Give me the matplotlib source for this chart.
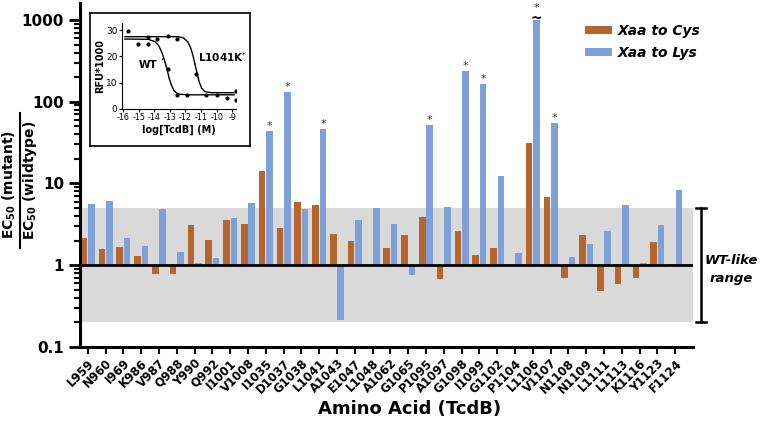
import numpy as np
import matplotlib
matplotlib.use('Agg')
import matplotlib.pyplot as plt

plt.rcParams['axes.unicode_minus'] = False

# datos: EC50(mutante)/EC50(wt) por residuo
residues = ['L959', 'N960', 'I969', 'K986', 'V987', 'Q988', 'Y990', 'Q992',
            'I1001', 'V1008', 'I1035', 'D1037', 'G1038', 'L1041', 'A1043',
            'E1047', 'L1048', 'A1062', 'G1065', 'P1095', 'A1097', 'G1098',
            'I1099', 'G1102', 'P1104', 'L1106', 'V1107', 'N1108', 'N1109',
            'L1111', 'L1113', 'K1116', 'Y1123', 'F1124']
nan = np.nan
cys = [2.14, 1.57, 1.66, 1.28, 0.78, 0.78, 3.14, 2.04, 3.58, 3.23, 14.2, 2.83,
       6.0, 5.52, 2.44, 1.98, nan, 1.64, 2.33, 3.94, 0.67, 2.66, 1.35, 1.64,
       nan, 31.0, 6.92, 0.69, 2.33, 0.49, 0.59, 0.69, 1.95, 1.05]
lys = [5.68, 6.06, 2.18, 1.72, 4.84, 1.45, 1.08, 1.22, 3.83, 5.7, 43.9, 131.0,
       4.84, 46.0, 0.215, 3.55, 5.02, 3.23, 0.755, 51.9, 5.22, 237.0, 165.0,
       12.2, 1.43, 1000.0, 54.4, 1.26, 1.84, 2.63, 5.46, 1.08, 3.11, 8.26]
starred = ['I1035', 'D1037', 'L1041', 'P1095', 'G1098', 'I1099', 'L1106', 'V1107']
broken = ['L1106']  # barra cortada (~)
wt_low, wt_high = 0.2, 5.0

wt_pts_x = [-15.72, -15.08, -14.43, -13.15, -12.57, -11.93, -10.65, -10.0, -9.36, -8.76]
wt_pts_y = [29.6, 24.8, 24.6, 15.2, 5.3, 5.3, 5.3, 5.3, 4.3, 3.4]
mut_pts_x = [-14.43, -13.8, -13.15, -12.57, -11.3, -8.76]
mut_pts_y = [27.5, 26.5, 27.8, 26.7, 13.3, 7.0]
wt_curve_x = [-15.89, -14.39, -13.96, -13.71, -13.49, -13.32, -13.17, -13.05,
              -12.89, -12.72, -12.47, -11.93, -8.87]
wt_curve_y = [26.6, 26.5, 25.6, 24.0, 21.1, 18.0, 14.8, 11.7, 8.9, 6.8, 5.7, 5.4, 5.4]
mut_curve_x = [-15.89, -12.47, -12.15, -11.86, -11.65, -11.5, -11.38, -11.25,
               -11.12, -10.96, -10.75, -10.32, -8.87]
mut_curve_y = [27.5, 27.5, 27.1, 25.6, 23.0, 19.9, 16.7, 13.6, 10.4, 7.9, 6.6, 6.2, 6.2]

c_cys = '#B6652F'
c_lys = '#7EA0D8'

W, H = 760, 421
fig = plt.figure(figsize=(7.6, 4.21), dpi=100)
ax = fig.add_axes([80/W, 1-347/H, 613/W, 344/H])

x = np.arange(len(residues))
ax.axhspan(wt_low, wt_high, color='#D9D9D9', zorder=0, lw=0)
ax.bar(x-0.21, np.array(cys)-1, bottom=1, width=0.37, color=c_cys,
       label='Xaa to Cys', zorder=2)
ax.bar(x+0.21, np.array(lys)-1, bottom=1, width=0.37, color=c_lys,
       label='Xaa to Lys', zorder=2)
ax.axhline(1, color='black', lw=2, zorder=3)
ax.set_yscale('log')
ax.set_ylim(0.1, 1614)
ax.set_xlim(-0.44, 34.0)

# asteriscos de significancia
for r in starred:
    i = residues.index(r)
    v = lys[i]
    if r in broken:
        ax.annotate('~', (i+0.21, v), xytext=(0, -4), textcoords='offset points',
                    ha='center', va='bottom', fontsize=10, fontweight='bold',
                    annotation_clip=False)
        ax.annotate('*', (i+0.21, v), xytext=(0, 5), textcoords='offset points',
                    ha='center', va='bottom', fontsize=8, color='#333333',
                    annotation_clip=False)
    else:
        ax.annotate('*', (i+0.21, v), xytext=(0, 0), textcoords='offset points',
                    ha='center', va='bottom', fontsize=8, color='#333333')

ax.spines['top'].set_visible(False)
ax.spines['right'].set_visible(False)
ax.spines['left'].set_linewidth(2.2)
ax.spines['bottom'].set_linewidth(2.2)
ax.set_xticks(x)
ax.set_xticklabels(residues, rotation=45, ha='right', rotation_mode='anchor',
                   fontsize=8.5, fontweight='bold')
ax.tick_params(axis='x', length=5, width=1.5, pad=2)
ax.set_yticks([0.1, 1, 10, 100, 1000])
ax.set_yticklabels(['0.1', '1', '10', '100', '1000'], fontsize=11, fontweight='bold')
ax.tick_params(axis='y', which='major', length=8, width=2)
ax.tick_params(axis='y', which='minor', length=4, width=1.5)

# corchete WT-like range
xb = 34.45
ax.plot([xb, xb], [wt_low, wt_high], color='black', lw=1.8, clip_on=False)
ax.plot([xb-0.28, xb+0.28], [wt_high, wt_high], color='black', lw=1.8, clip_on=False)
ax.plot([xb-0.28, xb+0.28], [wt_low, wt_low], color='black', lw=1.8, clip_on=False)
ax.text(36.15, 0.89, 'WT-like\nrange', ha='center', va='center', fontsize=9.5,
        fontweight='bold', style='italic', linespacing=1.5, clip_on=False)

leg = ax.legend(loc='upper left', bbox_to_anchor=(585/W, 1-24/H),
                bbox_transform=fig.transFigure, frameon=False, borderpad=0,
                borderaxespad=0, handlelength=1.95, handleheight=0.5,
                handletextpad=0.4, labelspacing=0.55,
                prop={'size': 10, 'weight': 'bold', 'style': 'italic'})

# etiquetas de ejes
fig.text(410/W, 1-409/H, 'Amino Acid (TcdB)', ha='center', va='center',
         fontsize=13, fontweight='bold')
fig.text(9/W, 1-185/H, r'EC$_{\mathbf{50}}$ (mutant)', rotation=90, ha='center',
         va='center', fontsize=10, fontweight='bold')
fig.text(30/W, 1-180/H, r'EC$_{\mathbf{50}}$ (wildtype)', rotation=90, ha='center',
         va='center', fontsize=10, fontweight='bold')
fig.add_artist(plt.Line2D([19.5/W, 19.5/W], [1-113/H, 1-248/H], color='black', lw=1.5))

# inset: marco
frame = fig.add_axes([90/W, 1-146/H, 160/W, 133/H])
frame.set_xticks([])
frame.set_yticks([])
for s in frame.spines.values():
    s.set_linewidth(1.2)

ins = fig.add_axes([121.7/W, 1-109/H, 114.3/W, 86/H])
ins.patch.set_alpha(0)
ins.plot(wt_curve_x, wt_curve_y, color='black', lw=1)
ins.plot(mut_curve_x, mut_curve_y, color='black', lw=1)
ins.plot(wt_pts_x, wt_pts_y, 'o', color='black', ms=2)
ins.plot(mut_pts_x, mut_pts_y, 'o', color='black', ms=2)
ins.set_xlim(-16.1, -8.75)
ins.set_ylim(0, 32.7)
ins.set_xticks(range(-16, -8))
ins.set_yticks([0, 10, 20, 30])
ins.tick_params(axis='x', labelsize=5.8, length=2, width=0.8, pad=1)
ins.tick_params(axis='y', labelsize=6.5, length=2, width=0.8, pad=1)
ins.spines['top'].set_visible(False)
ins.spines['right'].set_visible(False)
ins.set_xlabel('log[TcdB] (M)', fontsize=7, fontweight='bold', labelpad=2)
ins.set_ylabel('RFU*1000', fontsize=7, fontweight='bold', labelpad=1)
ins.annotate('WT', xy=(-13.43, 19.3), xytext=(-14.41, 16.7), ha='center', va='center',
             fontsize=7.5, fontweight='bold',
             arrowprops=dict(arrowstyle='-', lw=0.8, connectionstyle='arc3,rad=0.3'))
ins.annotate(r'L1041K$^{*}$', xy=(-11.42, 17.0), xytext=(-11.2, 19.9), ha='left',
             va='center', fontsize=7.5, fontweight='bold', annotation_clip=False,
             arrowprops=dict(arrowstyle='-', lw=0.8, connectionstyle='arc3,rad=0.3'))

fig.savefig('out.png', dpi=100)
